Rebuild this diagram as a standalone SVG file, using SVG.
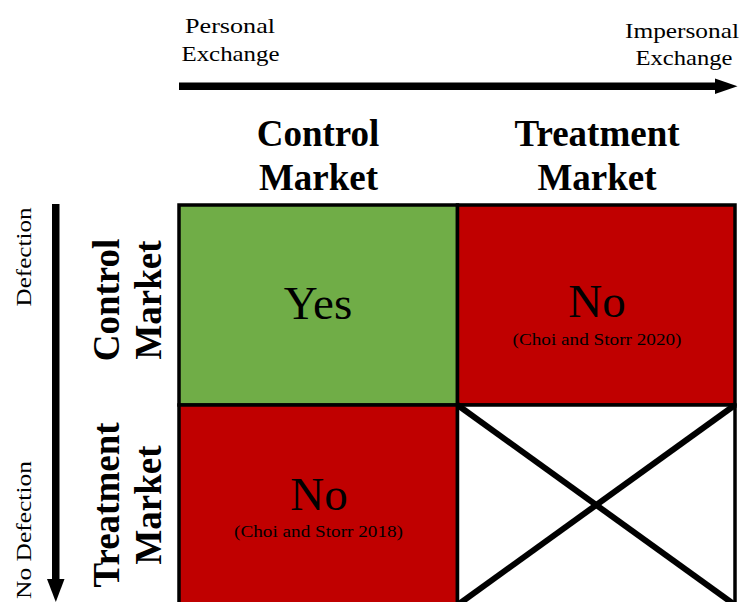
<svg xmlns="http://www.w3.org/2000/svg" width="742" height="602" viewBox="0 0 742 602">
  <style>
    .t { font-family: "Liberation Serif", "Times New Roman", serif; fill: #000; }
    .axis { font-size: 22px; }
    .head { font-size: 37px; font-weight: bold; }
    .big { font-size: 47px; }
    .cite { font-size: 17px; }
    .cell { stroke: #000; stroke-width: 3.5; }
    .green { fill: #70AD47; }
    .red { fill: #C00000; }
    .blank { fill: #FFFFFF; }
    .cross { stroke: #000; stroke-width: 6; stroke-linecap: butt; }
  </style>

  <rect width="742" height="602" fill="#FFFFFF"/>

  <!-- axis arrows -->
  <g id="connectors">
    <g id="arrow-exchange">
      <rect x="179" y="82.5" width="538" height="7.5" fill="#000"/>
      <polygon points="715,78.5 737.5,86.3 715,94" fill="#000"/>
    </g>
    <g id="arrow-defection">
      <rect x="52" y="204" width="7.5" height="377" fill="#000"/>
      <polygon points="47,579 64.5,579 55.8,602" fill="#000"/>
    </g>
  </g>

  <!-- axis end labels -->
  <g id="label-personal">
    <text class="t axis" x="230" y="33" text-anchor="middle" textLength="90" lengthAdjust="spacingAndGlyphs">Personal</text>
    <text class="t axis" x="230.5" y="61" text-anchor="middle" textLength="98" lengthAdjust="spacingAndGlyphs">Exchange</text>
  </g>
  <g id="label-impersonal">
    <text class="t axis" x="682" y="38" text-anchor="middle" textLength="114" lengthAdjust="spacingAndGlyphs">Impersonal</text>
    <text class="t axis" x="684" y="65" text-anchor="middle" textLength="97" lengthAdjust="spacingAndGlyphs">Exchange</text>
  </g>
  <g id="label-defection">
    <text class="t axis" transform="translate(31,257) rotate(-90)" x="0" y="0" text-anchor="middle" textLength="99" lengthAdjust="spacingAndGlyphs">Defection</text>
  </g>
  <g id="label-no-defection">
    <text class="t axis" transform="translate(31,530) rotate(-90)" x="0" y="0" text-anchor="middle" textLength="138" lengthAdjust="spacingAndGlyphs">No Defection</text>
  </g>

  <!-- column headers -->
  <g id="col-control">
    <text class="t head" x="318" y="146" text-anchor="middle">Control</text>
    <text class="t head" x="318.5" y="190" text-anchor="middle">Market</text>
  </g>
  <g id="col-treatment">
    <text class="t head" x="597" y="146" text-anchor="middle">Treatment</text>
    <text class="t head" x="597" y="190" text-anchor="middle">Market</text>
  </g>

  <!-- row headers -->
  <g id="row-control">
    <text class="t head" transform="translate(119,300) rotate(-90)" x="0" y="0" text-anchor="middle">Control</text>
    <text class="t head" transform="translate(161,300) rotate(-90)" x="0" y="0" text-anchor="middle">Market</text>
  </g>
  <g id="row-treatment">
    <text class="t head" transform="translate(119,505) rotate(-90)" x="0" y="0" text-anchor="middle">Treatment</text>
    <text class="t head" transform="translate(161,505) rotate(-90)" x="0" y="0" text-anchor="middle">Market</text>
  </g>

  <!-- grid cells -->
  <g id="cell-control-control">
    <rect class="cell green" x="179" y="205" width="278.5" height="200"/>
    <text class="t big" x="318" y="319" text-anchor="middle">Yes</text>
  </g>
  <g id="cell-control-treatment">
    <rect class="cell red" x="457.5" y="205" width="277.5" height="200"/>
    <text class="t big" x="597" y="317" text-anchor="middle">No</text>
    <text class="t cite" x="597" y="345" text-anchor="middle" textLength="169" lengthAdjust="spacingAndGlyphs">(Choi and Storr 2020)</text>
  </g>
  <g id="cell-treatment-control">
    <rect class="cell red" x="179" y="405" width="278.5" height="205"/>
    <text class="t big" x="319" y="510" text-anchor="middle">No</text>
    <text class="t cite" x="318.5" y="537" text-anchor="middle" textLength="169" lengthAdjust="spacingAndGlyphs">(Choi and Storr 2018)</text>
  </g>
  <g id="cell-treatment-treatment">
    <rect class="cell blank" x="457.5" y="405" width="277.5" height="205"/>
    <line class="cross" x1="457.5" y1="405" x2="735" y2="605"/>
    <line class="cross" x1="735" y1="405" x2="457.5" y2="605"/>
  </g>
</svg>
